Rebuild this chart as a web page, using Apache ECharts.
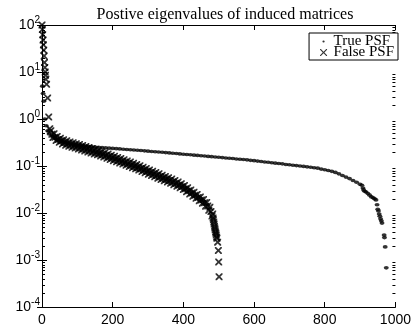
<!DOCTYPE html>
<html><head><meta charset="utf-8">
<script src="https://cdn.jsdelivr.net/npm/echarts@6/dist/echarts.min.js"></script>
<style>html,body{margin:0;padding:0;background:#fff}#c{width:414px;height:330px}</style>
</head><body><div id="c"></div>
<script>
const titleText = 'Postive eigenvalues of induced matrices';
const seriesNames = ['True PSF', 'False PSF'];
const xTicks = [0, 200, 400, 600, 800, 1000];
const yDecades = [-4, -3, -2, -1, 0, 1, 2];

// [eigenvalue index, eigenvalue]
const truePsf = [[1,5],[3,3.5],[5,2.4],[8,1.0],[12,0.72],[16,0.56],[20,0.48],[30,0.42],[40,0.375],[50,0.345],[60,0.325],[70,0.31],[80,0.298],[90,0.288],[100,0.28],[110,0.273],[120,0.267],[130,0.262],[140,0.258],[150,0.254],[160,0.25],[170,0.246],[180,0.243],[190,0.24],[200,0.237],[210,0.234],[220,0.231],[230,0.228],[240,0.225],[250,0.222],[260,0.219],[270,0.216],[280,0.213],[290,0.21],[300,0.207],[310,0.204],[320,0.201],[330,0.198],[340,0.196],[350,0.193],[360,0.19],[370,0.187],[380,0.184],[390,0.181],[400,0.178],[410,0.176],[420,0.173],[430,0.17],[440,0.168],[450,0.165],[460,0.163],[470,0.16],[480,0.158],[490,0.155],[500,0.153],[510,0.151],[520,0.148],[530,0.146],[540,0.144],[550,0.141],[560,0.139],[570,0.137],[580,0.135],[590,0.132],[600,0.13],[610,0.127],[620,0.125],[630,0.122],[640,0.12],[650,0.117],[660,0.115],[670,0.113],[680,0.111],[690,0.108],[700,0.106],[710,0.104],[720,0.102],[730,0.1],[740,0.098],[750,0.096],[760,0.094],[770,0.092],[780,0.09],[790,0.086],[800,0.083],[810,0.08],[820,0.077],[830,0.073],[840,0.068],[850,0.063],[860,0.058],[870,0.054],[880,0.049],[890,0.045],[900,0.041],[905,0.039],[908,0.034],[910,0.031],[913,0.029],[917,0.028],[922,0.026],[927,0.024],[932,0.022],[937,0.021],[941,0.02],[945,0.019],[948,0.015],[950,0.012],[952,0.011],[954,0.0095],[956,0.0085],[958,0.0075],[960,0.0068],[962,0.0061],[968,0.0034],[969,0.003],[971,0.0019],[974,0.00068]];

const falsePsf = [[0,100],[1,80],[2,62],[3,48],[4,38],[5,29],[6,22],[7,16],[8,12.5],[9,10],[10,8.5],[11,7],[13,5.5],[16,2.8],[19,1.1],[22,0.62],
[25,0.562],[28,0.476],[31,0.404],[34,0.483],[37,0.409],[40,0.347],[43,0.425],[46,0.368],[49,0.319],[52,0.391],[55,0.339],[58,0.294],[61,0.361],[64,0.316],[67,0.277],[70,0.343],[73,0.3],[76,0.263],[79,0.325],[82,0.286],[85,0.251],[88,0.312],[91,0.274],[94,0.241],[97,0.299],[100,0.263],[103,0.231],[106,0.286],[109,0.251],[112,0.22],[115,0.272],[118,0.239],[121,0.209],[124,0.259],[127,0.228],[130,0.1995],[133,0.247],[136,0.217],[139,0.19],[142,0.236],[145,0.207],[148,0.181],[151,0.224],[154,0.197],[157,0.173],[160,0.214],[163,0.187],[166,0.163],[169,0.202],[172,0.177],[175,0.155],[178,0.191],[181,0.167],[184,0.146],[187,0.18],[190,0.157],[193,0.138],[196,0.17],[199,0.149],[202,0.13],[205,0.161],[208,0.141],[211,0.123],[214,0.152],[217,0.133],[220,0.116],[223,0.144],[226,0.125],[229,0.11],[232,0.136],[235,0.119],[238,0.104],[241,0.128],[244,0.112],[247,0.0977],[250,0.121],[253,0.105],[256,0.092],[259,0.114],[262,0.0993],[265,0.0869],[268,0.107],[271,0.0935],[274,0.0818],[277,0.101],[280,0.0879],[283,0.0766],[286,0.0944],[289,0.0822],[292,0.0718],[295,0.0883],[298,0.0769],[301,0.0671],[304,0.0826],[307,0.0721],[310,0.063],[313,0.0774],[316,0.0676],[319,0.059],[322,0.0726],[325,0.0634],[328,0.0552],[331,0.0681],[334,0.0594],[337,0.0518],[340,0.0638],[343,0.0557],[346,0.0485],[349,0.0598],[352,0.0521],[355,0.0455],[358,0.0561],[361,0.0489],[364,0.0427],[367,0.0526],[370,0.0458],[373,0.04],[376,0.0492],[379,0.043],[382,0.0373],[385,0.0457],[388,0.0396],[391,0.0344],[394,0.0421],[397,0.0365],[400,0.0316],[403,0.0384],[406,0.033],[409,0.0284],[412,0.0344],[415,0.0296],[418,0.0254],[421,0.0309],[424,0.0265],[427,0.0228],[430,0.0277],[433,0.0238],[436,0.0205],[439,0.0248],[442,0.0213],[445,0.0182],[448,0.022],[451,0.0188],[454,0.0161],[457,0.0194],[460,0.0166],[463,0.014],[466,0.0167],[469,0.0141],[472,0.0115],[475,0.0132],[478,0.0107],[481,0.00863],
[483,0.0095],[484,0.0078],[485,0.0072],[486,0.0064],[487,0.0058],[488,0.0052],[489,0.0048],[490,0.0044],[491,0.004],[492,0.0037],[493,0.0034],[494,0.0031],[495,0.0029],[497,0.0024],[499,0.0016],[500,0.00091],[501,0.00044]];

// minor tick positions of the log axis (2..9 x each decade)
const minorTicks = [];
for (let d = yDecades[0]; d < yDecades[yDecades.length - 1]; d++) {
  for (let m = 2; m <= 9; m++) minorTicks.push([0, m * Math.pow(10, d)]);
}

const X_PATH = 'path://M0,0L1.8,0L5,3.2L8.2,0L10,0L10,1.8L6.8,5L10,8.2L10,10L8.2,10L5,6.8L1.8,10L0,10L0,8.2L3.2,5L0,1.8Z';
const X_ICON = 'path://M0,0L1.2,0L5,3.8L8.8,0L10,0L10,1.2L6.2,5L10,8.8L10,10L8.8,10L5,6.2L1.2,10L0,10L0,8.8L3.8,5L0,1.2Z';
const DOT_ICON = 'path://M0,0L0.01,0M10,10L10.01,10M5,3.4A1.6,1.6,0,1,1,5,6.6A1.6,1.6,0,1,1,5,3.4Z';

const sans = 'Liberation Sans';
const serif = 'Liberation Serif';
const black = '#000';

const chart = echarts.init(document.getElementById('c'), null, {renderer: 'canvas'});
const axisCommon = {
  axisLine: {show: true, lineStyle: {color: black, width: 1}},
  axisTick: {show: true, inside: true, length: 5, lineStyle: {color: black}},
  splitLine: {show: false}
};
chart.setOption({
  animation: false,
  backgroundColor: '#fff',
  title: {
    text: titleText, left: 220, top: 2, textAlign: 'center',
    textStyle: {fontFamily: serif, fontSize: 16, fontWeight: 'normal', color: black}
  },
  legend: {
    data: [{name: seriesNames[0], icon: DOT_ICON}, {name: seriesNames[1], icon: X_ICON}],
    orient: 'vertical', right: 16, top: 33, z: 20,
    itemWidth: 10, itemHeight: 7, itemGap: -4,
    padding: [1, 4, 0, 11],
    backgroundColor: '#fff',
    borderColor: black, borderWidth: 1,
    textStyle: {fontFamily: serif, fontSize: 15, color: black}
  },
  grid: {left: 42, right: 15, top: 25, bottom: 23, containLabel: false},
  xAxis: [
    Object.assign({type: 'value', min: xTicks[0], max: xTicks[xTicks.length - 1], interval: 200, position: 'bottom',
      axisLabel: {fontFamily: sans, fontSize: 14, color: black, margin: 6, formatter: v => String(v)}}, axisCommon),
    Object.assign({type: 'value', min: xTicks[0], max: xTicks[xTicks.length - 1], interval: 200, position: 'top',
      axisLabel: {show: false}}, axisCommon)
  ],
  yAxis: [
    Object.assign({type: 'log', logBase: 10, min: Math.pow(10, yDecades[0]), max: Math.pow(10, yDecades[yDecades.length - 1]), position: 'left',
      axisLabel: {
        margin: 2, color: black,
        formatter: v => '{b|10}{s|' + Math.round(Math.log10(v)) + '}',
        rich: {b: {fontFamily: sans, fontSize: 14, color: black}, s: {fontFamily: sans, fontSize: 10, color: black, padding: [0, 0, 9, 0]}}
      }}, axisCommon),
    Object.assign({type: 'log', logBase: 10, min: Math.pow(10, yDecades[0]), max: Math.pow(10, yDecades[yDecades.length - 1]), position: 'right',
      axisLabel: {show: false}}, axisCommon)
  ],
  series: [
    {
      type: 'custom', name: 'minor', silent: true, clip: false, xAxisIndex: 0, yAxisIndex: 0, z: 1,
      data: minorTicks,
      renderItem: (params, api) => {
        const l = api.coord([xTicks[0], api.value(1)]);
        const r = api.coord([xTicks[xTicks.length - 1], api.value(1)]);
        const y = Math.round(l[1]) + 0.5;
        return {type: 'group', children: [
          {type: 'line', shape: {x1: l[0], y1: y, x2: l[0] + 3, y2: y}, style: {stroke: black, lineWidth: 1}},
          {type: 'line', shape: {x1: r[0] - 3, y1: y, x2: r[0], y2: y}, style: {stroke: black, lineWidth: 1}}
        ]};
      }
    },
    {
      type: 'scatter', name: seriesNames[0], data: truePsf,
      symbol: 'circle', symbolSize: [5, 3.6], itemStyle: {color: black}, z: 3
    },
    {
      type: 'scatter', name: seriesNames[1], data: falsePsf,
      symbol: X_PATH, symbolSize: 7, itemStyle: {color: black}, z: 4
    }
  ]
});
</script>
</body></html>
